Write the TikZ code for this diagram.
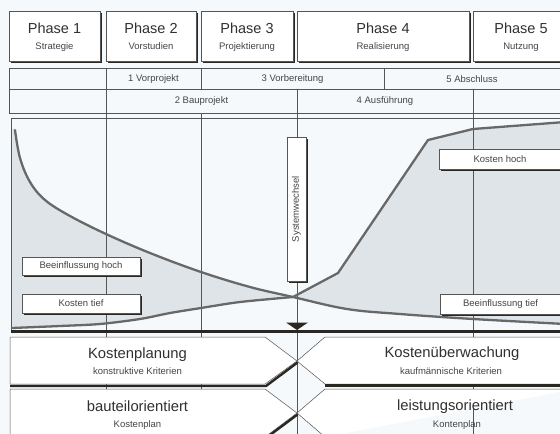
\documentclass[tikz,border=0pt]{standalone}
\usepackage{fontspec}
\setmainfont{Liberation Sans}
\usetikzlibrary{shadows}
\definecolor{bg}{HTML}{F6F9FB}
\definecolor{ln}{HTML}{555555}
\definecolor{shd}{HTML}{2A2622}
\definecolor{crv}{HTML}{686868}
\definecolor{area}{HTML}{DFE4E9}
\definecolor{txt}{HTML}{303030}
\begin{document}
\begin{tikzpicture}[x=1pt,y=-1pt,
  box/.style={draw=ln, line width=0.5pt, fill=white, inner sep=0pt,
    drop shadow={shadow xshift=2pt, shadow yshift=-2.2pt, fill=shd, opacity=1}},
  big/.style={font=\fontsize{14.5}{16}\selectfont, text=txt, inner sep=0pt},
  bigb/.style={font=\fontsize{14.8}{16}\selectfont, text=txt, inner sep=0pt},
  small/.style={font=\fontsize{9.5}{11}\selectfont, text=txt!90, inner sep=0pt},
  thin/.style={draw=ln, line width=0.5pt},
  curve/.style={draw=crv, line width=2.3pt, line join=round, line cap=round},
  shadowline/.style={draw=shd, line width=2.4pt}]
% background / bounding box
\fill[bg] (0,0) rectangle (560,434);
\useasboundingbox (0,0) rectangle (560,434);

% phase boxes
\node[box, minimum width=91pt, minimum height=50pt] (p1) at (54.5,36) {};
\node[box, minimum width=90pt, minimum height=50pt] (p2) at (151,36) {};
\node[box, minimum width=92pt, minimum height=50pt] (p3) at (247,36) {};
\node[box, minimum width=172pt, minimum height=50pt] (p4) at (383,36) {};
\node[box, minimum width=96pt, minimum height=50pt] (p5) at (521,36) {};
\node[big, anchor=base] (p1t) at (54.5,33) {Phase 1};
\node[small, anchor=base] (p1s) at (54.5,49.5) {Strategie};
\node[big, anchor=base] (p2t) at (151,33) {Phase 2};
\node[small, anchor=base] (p2s) at (151,49.5) {Vorstudien};
\node[big, anchor=base] (p3t) at (247,33) {Phase 3};
\node[small, anchor=base] (p3s) at (247,49.5) {Projektierung};
\node[big, anchor=base] (p4t) at (383,33) {Phase 4};
\node[small, anchor=base] (p4s) at (383,49.5) {Realisierung};
\node[big, anchor=base] (p5t) at (521,33) {Phase 5};
\node[small, anchor=base] (p5s) at (521,49.5) {Nutzung};

% rows
\draw[thin] (9,68) rectangle (575,113);
\draw[thin] (9,89) -- (575,89);
\node[small] (r1a) at (153.5,79) {1 Vorprojekt};
\node[small] (r1b) at (292.5,79) {3 Vorbereitung};
\node[small] (r1c) at (472,79) {5 Abschluss};
\node[small] (r2a) at (201.5,101.5) {2 Bauprojekt};
\node[small] (r2b) at (385,101.5) {4 Ausführung};

% shaded areas
\fill[area] (12,128) -- plot[smooth, tension=0.6] coordinates {(15,130) (20,158) (30,182) (45,200) (70,216) (106,234) (150,253) (201,272) (250,287) (293,297)}
  -- plot[smooth, tension=0.5] coordinates {(293,297) (240,302) (201,308) (170,313) (140,319) (100,324) (60,326) (12,328)} -- cycle;
\fill[area] (293,297) -- (338,273) -- (428,140) -- (473,129) -- (565,122) -- (565,324)
  -- plot[smooth, tension=0.6] coordinates {(565,324) (473,319) (400,314) (347,309) (293,297)} -- cycle;

% chart frame
\draw[thin] (11,118) -- (575,118);
\draw[thin] (11,118) -- (11,331);

% vertical lines
\draw[thin] (106,68) -- (106,434);
\draw[thin] (201,68) -- (201,89);
\draw[thin] (201,113) -- (201,434);
\draw[thin] (297,89) -- (297,434);
\draw[thin] (384,68) -- (384,89);
\draw[thin] (473,89) -- (473,434);

% curves
\draw[curve] plot[smooth, tension=0.6] coordinates {(15,130) (20,158) (30,182) (45,200) (70,216) (106,234) (150,253) (201,272) (250,287) (293,297) (347,309) (400,314) (473,319) (565,324)};
\draw[curve] plot[smooth, tension=0.5] coordinates {(12,328) (60,326) (100,324) (140,319) (170,313) (201,308) (240,302) (293,297)}
  -- (338,273) -- (428,140) -- (473,129) -- (565,122);

% chart bottom
\draw[shadowline] (11,331.5) -- (575,331.5);

% labels in chart
\node[box, small, minimum width=118pt, minimum height=18pt] (bh) at (81,266) {Beeinflussung hoch};
\node[box, small, minimum width=118pt, minimum height=19pt] (kt) at (81,303.5) {Kosten tief};
\node[box, small, minimum width=122pt, minimum height=20pt] (kh) at (500,159) {Kosten hoch};
\node[box, small, minimum width=121pt, minimum height=20pt] (bt) at (500.5,304) {Beeinflussung tief};
\node[box, minimum width=19pt, minimum height=144pt] (sw) at (296.5,209) {};
\node[small, rotate=90] (swt) at (296.5,209) {Systemwechsel};

% marker
\fill[shd] (286,322.5) -- (308,322.5) -- (297,330) -- cycle;

% bottom chevrons row 1
\draw[thin, fill=white] (10,337) -- (265,337) -- (297,361) -- (265,384) -- (10,384) -- cycle;
\draw[shadowline] (297.5,362.5) -- (266,386) -- (10,386);
\draw[thin, fill=white] (575,337) -- (325,337) -- (297,361) -- (325,384) -- (575,384);
\draw[shadowline] (325,385.5) -- (575,385.5);
% bottom chevrons row 2
\draw[thin, fill=white] (10,437) -- (10,389) -- (265,389) -- (297,413) -- (265,437);
\draw[shadowline] (297.5,414.5) -- (266,438);
\draw[thin, fill=white] (575,389) -- (325,389) -- (297,413) -- (325,437);

\node[bigb, anchor=base] (kp) at (137.5,358) {Kostenplanung};
\node[small, anchor=base] (kpk) at (137.5,374) {konstruktive Kriterien};
\node[bigb, anchor=base] (ku) at (452,357) {Kostenüberwachung};
\node[small, anchor=base] (kuk) at (451,374) {kaufmännische Kriterien};
\node[bigb, anchor=base] (bo) at (137.5,411) {bauteilorientiert};
\node[small, anchor=base] (bok) at (137.5,427) {Kostenplan};
\node[bigb, anchor=base] (lo) at (455,410) {leistungsorientiert};
\node[small, anchor=base] (lok) at (457,427) {Kontenplan};
\end{tikzpicture}
\end{document}
